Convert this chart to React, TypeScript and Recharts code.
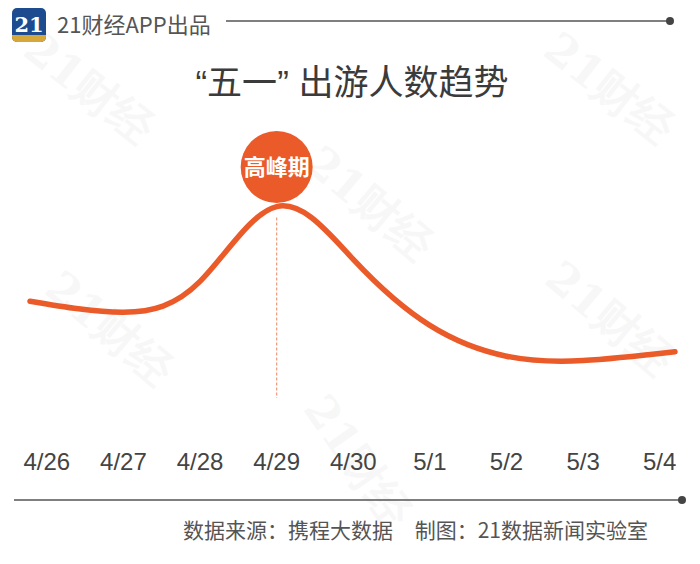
import { LineChart, Line, XAxis, YAxis, ReferenceLine, ReferenceDot } from 'recharts';

const dateLabels = ['4/26', '4/27', '4/28', '4/29', '4/30', '5/1', '5/2', '5/3', '5/4'];
// days counted from 4/26; the curve starts a little before the first label and ends a little after the last
const curveDays = [-0.22, 1, 2, 3, 4, 5, 6, 7, 8.2];
const travelIndex = [54, 49, 63, 97, 73, 43, 29, 27, 31];
const peakDay = 3;

const data = curveDays.map((day, i) => ({ day, value: travelIndex[i] }));
const tickDays = dateLabels.map((_, i) => i);

const ORANGE = '#eb5a29';
const CJK = "'Noto Sans CJK SC', 'Noto Sans', sans-serif";
const LATIN = "'Liberation Sans', Arial, sans-serif";

const watermarks = [
  { x: 80, y: 100, r: 38 },
  { x: 100, y: 340, r: 40 },
  { x: 360, y: 215, r: 40 },
  { x: 600, y: 100, r: 38 },
  { x: 600, y: 330, r: 40 },
  { x: 345, y: 470, r: 55 },
];

function Decorations() {
  return (
    <svg width={700} height={564} style={{ position: 'absolute', left: 0, top: 0 }}>
      <rect width={700} height={564} fill="#fff" />
      {watermarks.map((w, i) => (
        <text
          key={i}
          x={w.x}
          y={w.y}
          transform={`rotate(${w.r} ${w.x} ${w.y})`}
          textAnchor="middle"
          fontFamily="'DejaVu Serif', serif"
          fontWeight="bold"
          fontSize={44}
          fill="#000"
          opacity={0.028}
        >
          21财经
        </text>
      ))}

      {/* logo */}
      <defs>
        <clipPath id="logoClip">
          <rect x={12} y={8} width={34} height={34} rx={5} />
        </clipPath>
      </defs>
      <g clipPath="url(#logoClip)">
        <rect x={12} y={8} width={34} height={34} fill="#1c4c8f" />
        <rect x={12} y={35} width={34} height={7} fill="#d6a83a" />
      </g>
      <text x={29} y={32} textAnchor="middle" fontFamily="'DejaVu Serif', serif" fontWeight="bold" fontSize={21} fill="#fff">
        21
      </text>
      <text x={57} y={33} fontFamily={CJK} fontSize={22} fill="#555">
        21财经APP出品
      </text>
      <line x1={226} y1={21} x2={668} y2={21} stroke="#555" strokeWidth={1.5} />
      <circle cx={670} cy={21} r={4} fill="#444" />

      <text x={352} y={95} textAnchor="middle" fontFamily={CJK} fontSize={35} fill="#3b3b3b">
        <tspan fontFamily={LATIN}>“</tspan>五一<tspan fontFamily={LATIN}>”{'\u00a0'}</tspan>出游人数趋势
      </text>

      <line x1={14} y1={500} x2={680} y2={500} stroke="#555" strokeWidth={1.5} />
      <circle cx={682} cy={500} r={4} fill="#444" />
      <text x={183} y={538} fontFamily={CJK} fontSize={21} fill="#555">
        数据来源：携程大数据
      </text>
      <text x={648} y={538} textAnchor="end" fontFamily={CJK} fontSize={21} fill="#555">
        制图：21数据新闻实验室
      </text>
    </svg>
  );
}

export default function App() {
  return (
    <div style={{ position: 'absolute', left: 0, top: 0, width: 700, height: 564, fontFamily: CJK }}>
      <Decorations />
      <div style={{ position: 'absolute', left: 0, top: 0 }}>
        <LineChart width={700} height={564} data={data} margin={{ top: 200, right: 25, bottom: 0, left: 30 }}>
          <XAxis
            dataKey="day"
            type="number"
            domain={[-0.22, 8.2]}
            ticks={tickDays}
            tickFormatter={(d: number) => dateLabels[d]}
            height={144}
            axisLine={false}
            tickLine={false}
            tickSize={0}
            tickMargin={33}
            interval={0}
            tick={{ fill: '#444', fontSize: 24, fontFamily: LATIN }}
          />
          <YAxis hide domain={[0, 100]} />
          <ReferenceLine
            segment={[{ x: peakDay, y: 92 }, { x: peakDay, y: 10 }]}
            stroke="#ef9a78"
            strokeWidth={1.2}
            strokeDasharray="3 2"
          />
          <ReferenceDot
            x={peakDay}
            y={115}
            r={36}
            fill={ORANGE}
            stroke="none"
            ifOverflow="visible"
            label={{ value: '高峰期', position: 'center', fill: '#fff', fontSize: 22, fontWeight: 700, fontFamily: CJK }}
          />
          <Line
            type="natural"
            dataKey="value"
            stroke={ORANGE}
            strokeWidth={5.5}
            strokeLinecap="round"
            dot={false}
            activeDot={false}
            isAnimationActive={false}
          />
        </LineChart>
      </div>
    </div>
  );
}
